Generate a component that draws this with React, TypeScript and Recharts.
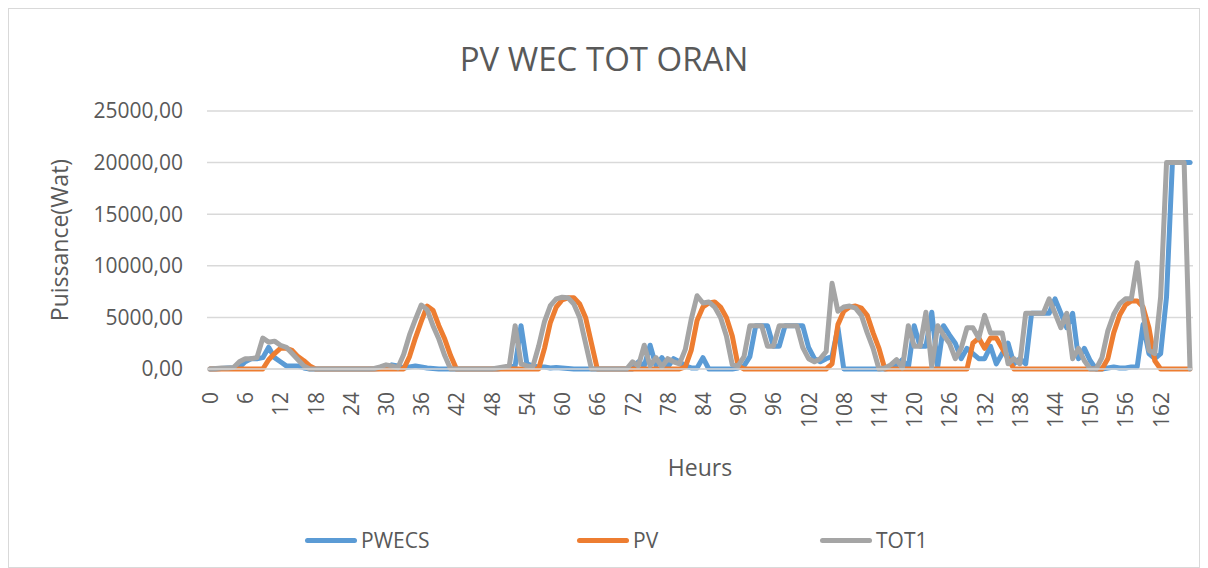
import { LineChart, Line, XAxis, YAxis, CartesianGrid, Label } from "recharts"

// hours 0..167 (one week, hourly)
const HOURS = Array.from({ length: 168 }, (_, i) => i)

const PWECS = [
  0, 0, 50, 100, 100, 150, 700, 1000, 1000, 1100,
  2100, 1100, 700, 300, 300, 300, 100, 0, 0, 0,
  0, 0, 0, 0, 0, 0, 0, 0, 0, 50,
  200, 400, 300, 100, 200, 300, 200, 100, 50, 0,
  0, 0, 0, 0, 0, 0, 0, 0, 0, 0,
  100, 200, 300, 4200, 500, 300, 200, 200, 100, 150,
  100, 50, 0, 0, 0, 0, 0, 0, 0, 0,
  0, 0, 0, 700, 300, 2300, 300, 1100, 200, 1000,
  700, 300, 100, 100, 1100, 0, 0, 0, 0, 0,
  100, 300, 1200, 4200, 4200, 4200, 2200, 2200, 4200, 4200,
  4200, 4200, 2100, 1000, 700, 1000, 1200, 4000, 0, 0,
  0, 0, 0, 0, 0, 0, 100, 400, 900, 100,
  4200, 2200, 2200, 5500, 200, 4200, 3300, 2500, 1000, 2000,
  1500, 1000, 1000, 2200, 500, 1500, 2500, 500, 1000, 500,
  5400, 5400, 5400, 5400, 6800, 5400, 4000, 5400, 1000, 2000,
  800, 0, 0, 100, 200, 100, 100, 200, 200, 4300,
  1500, 1000, 1500, 7000, 20000, 20000, 20000, 20000,
]

const PV = [
  0, 0, 0, 0, 0, 0, 0, 0, 0, 0,
  900, 1500, 2000, 2000, 1800, 1200, 800, 300, 0, 0,
  0, 0, 0, 0, 0, 0, 0, 0, 0, 0,
  0, 0, 0, 0, 1200, 3000, 4600, 6100, 5700, 4200,
  2900, 1300, 0, 0, 0, 0, 0, 0, 0, 0,
  0, 0, 0, 0, 0, 0, 0, 2000, 4500, 6000,
  6700, 6900, 6900, 6300, 5000, 2500, 0, 0, 0, 0,
  0, 0, 0, 0, 0, 0, 0, 0, 0, 0,
  0, 200, 1800, 4700, 6000, 6400, 6500, 6000, 5000, 3200,
  300, 0, 0, 0, 0, 0, 0, 0, 0, 0,
  0, 0, 0, 0, 0, 0, 500, 4300, 5600, 6000,
  6100, 5900, 5200, 3500, 2000, 0, 0, 0, 0, 0,
  0, 0, 0, 0, 0, 0, 0, 0, 0, 0,
  2500, 3000, 2000, 3000, 3000, 2000, 1000, 0, 0, 0,
  0, 0, 0, 0, 0, 0, 0, 0, 0, 0,
  0, 0, 0, 1000, 3500, 5200, 6200, 6600, 6600, 6000,
  4000, 800, 0, 0, 0, 0, 0, 0,
]

const TOT1 = [
  0, 50, 100, 100, 150, 700, 1000, 1000, 1100, 3000,
  2600, 2700, 2300, 2100, 1500, 900, 300, 0, 0, 0,
  0, 0, 0, 0, 0, 0, 0, 0, 50, 200,
  400, 300, 100, 1400, 3300, 4800, 6200, 5750, 4200, 2900,
  1300, 0, 0, 0, 0, 0, 0, 0, 0, 100,
  200, 300, 4200, 500, 300, 200, 2200, 4600, 6150, 6800,
  6950, 6900, 6300, 5000, 2500, 0, 0, 0, 0, 0,
  0, 0, 700, 300, 2300, 300, 1100, 200, 1000, 700,
  500, 1900, 4800, 7100, 6400, 6500, 6000, 5000, 3200, 400,
  300, 1200, 4200, 4200, 4200, 2200, 2200, 4200, 4200, 4200,
  4200, 2100, 1000, 700, 1000, 1700, 8300, 5600, 6000, 6100,
  5900, 5200, 3500, 2000, 0, 100, 400, 900, 100, 4200,
  2200, 2200, 5500, 200, 4200, 3300, 2500, 1000, 2000, 4000,
  4000, 3000, 5200, 3500, 3500, 3500, 500, 1000, 500, 5400,
  5400, 5400, 5400, 6800, 5400, 4000, 5400, 1000, 2000, 800,
  0, 0, 1100, 3700, 5300, 6300, 6800, 6800, 10300, 5500,
  1800, 1500, 7000, 20000, 20000, 20000, 20000, 0,
]

const Y_TICKS = [0, 5000, 10000, 15000, 20000, 25000]

const SERIES = [
  { key: "PWECS", color: "#5b9bd5" },
  { key: "PV", color: "#ed7d31" },
  { key: "TOT1", color: "#a5a5a5" },
]

const TEXT = "#595959"
const FONT = "'Open Sans', sans-serif"

const chartData = HOURS.map((h, i) => ({
  hour: h,
  PWECS: PWECS[i],
  PV: PV[i],
  TOT1: TOT1[i],
}))

const fmt = (v: number) => v.toFixed(2).replace(".", ",")

function HourTick({ x, y, payload }: any) {
  return (
    <text
      x={x}
      y={y}
      transform={`rotate(-90 ${x} ${y})`}
      textAnchor="end"
      dominantBaseline="central"
      fill={TEXT}
      fontSize={21}
      fontFamily={FONT}
    >
      {payload.value}
    </text>
  )
}

export default function App() {
  return (
    <div
      style={{
        position: "relative",
        width: 1192,
        height: 560,
        border: "1px solid #d9d9d9",
        boxSizing: "border-box",
        background: "#fff",
        fontFamily: FONT,
        color: TEXT,
      }}
    >
      <div
        style={{
          position: "absolute",
          top: 33,
          left: 0,
          width: "100%",
          textAlign: "center",
          fontSize: 33,
          lineHeight: "33px",
        }}
      >
        PV WEC TOT ORAN
      </div>

      <LineChart
        width={1190}
        height={558}
        data={chartData}
        margin={{ top: 102, right: 6, left: 0, bottom: 78 }}
      >
        <CartesianGrid vertical={false} stroke="#d9d9d9" strokeWidth={1.5} />
        <XAxis
          dataKey="hour"
          interval={5}
          padding={{ left: 3, right: 3 }}
          height={120}
          tickSize={0}
          tickMargin={23}
          tick={<HourTick />}
          axisLine={{ stroke: "#d9d9d9", strokeWidth: 1.5 }}
          tickLine={false}
        >
          <Label
            content={({ viewBox }: any) => (
              <text
                x={viewBox.x + viewBox.width / 2}
                y={viewBox.y + 98}
                textAnchor="middle"
                dominantBaseline="central"
                fill={TEXT}
                fontSize={23}
                fontFamily={FONT}
              >
                Heurs
              </text>
            )}
          />
        </XAxis>
        <YAxis
          width={198}
          domain={[0, 25000]}
          ticks={Y_TICKS}
          interval={0}
          tickFormatter={fmt}
          tickSize={0}
          tickMargin={24}
          axisLine={false}
          tickLine={false}
          tick={{ fill: TEXT, fontSize: 21, fontFamily: FONT }}
        >
          <Label
            content={({ viewBox }: any) => {
              const cx = 50
              const cy = viewBox.y + viewBox.height / 2
              return (
                <text
                  x={cx}
                  y={cy}
                  transform={`rotate(-90 ${cx} ${cy})`}
                  textAnchor="middle"
                  dominantBaseline="central"
                  fill={TEXT}
                  fontSize={23}
                  fontFamily={FONT}
                >
                  Puissance(Wat)
                </text>
              )
            }}
          />
        </YAxis>
        {SERIES.map((s) => (
          <Line
            key={s.key}
            type="linear"
            dataKey={s.key}
            stroke={s.color}
            strokeWidth={5}
            strokeLinejoin="round"
            strokeLinecap="round"
            dot={false}
            activeDot={false}
            isAnimationActive={false}
          />
        ))}
      </LineChart>

      {/* legend */}
      {SERIES.map((s, i) => (
        <div
          key={s.key}
          style={{
            position: "absolute",
            top: 518,
            left: [296, 568, 811][i],
            display: "flex",
            alignItems: "center",
            fontSize: 21,
            lineHeight: "26px",
          }}
        >
          <span
            style={{
              display: "inline-block",
              width: 52,
              height: 5,
              borderRadius: 3,
              background: s.color,
              marginRight: 4,
            }}
          />
          {s.key}
        </div>
      ))}
    </div>
  )
}
